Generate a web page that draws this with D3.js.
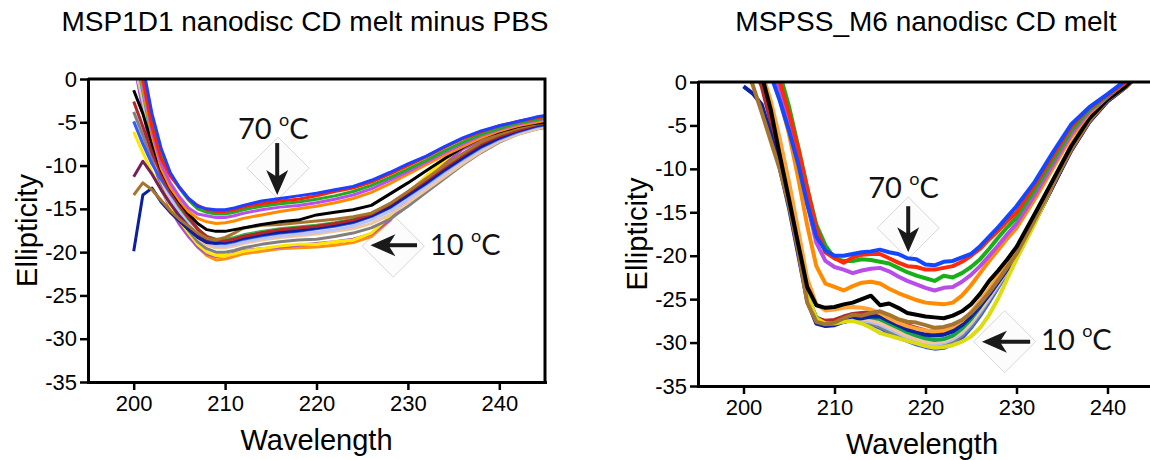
<!DOCTYPE html>
<html>
<head>
<meta charset="utf-8">
<script src="https://cdn.jsdelivr.net/npm/d3@7"></script>
<style>
  body { margin: 0; background: #fff; }
  text { font-family: "Liberation Sans", Arial, sans-serif; }
</style>
</head>
<body>
<div id="chart"></div>
<script>
// ---- data: left panel (MSP1D1) ----
const wlLeft = [200,201,202,203,204,205,206,207,208,209,210,211,212,214,216,218,220,222,224,226,228,230,232,234,236,238,240,242,244,245];

const leftOrange2    = [3, -3, -8.5, -12.2, -14.6, -16.5, -18.0, -19.4, -20.4, -20.9, -20.8, -20.5, -20.2, -19.9, -19.6, -19.5, -19.4, -19.2, -18.9, -18.2, -16.4, -13.6, -11.5, -9.7, -7.9, -6.9, -6.2, -5.9, -5.6, -5.5];
const leftViolet2    = [2, -3.5, -9, -12.6, -15.0, -16.8, -18.2, -19.4, -20.2, -20.5, -20.4, -20.1, -19.8, -19.6, -19.4, -19.2, -19.0, -18.8, -18.5, -17.9, -16.3, -13.8, -11.7, -9.9, -8.1, -7.1, -6.3, -6.0, -5.7, -5.6];
const leftYellow     = [-6.1, -8.5, -10.8, -12.8, -14.6, -16.3, -17.8, -19.1, -20.0, -20.4, -20.4, -20.2, -19.9, -19.6, -19.3, -19.1, -19.1, -18.8, -18.6, -17.8, -15.9, -13.2, -11.2, -9.4, -7.7, -6.8, -6.1, -5.8, -5.6, -5.5];
const leftGray       = [-3.8, -6.5, -9.5, -12.0, -14.2, -16.0, -17.5, -18.8, -19.6, -20.0, -20.0, -19.8, -19.5, -19.1, -18.8, -18.6, -18.5, -18.2, -17.8, -17.2, -16.2, -14.7, -13.1, -11.5, -9.9, -8.5, -7.3, -6.4, -5.8, -5.6];
const leftPeach      = [2, -2.5, -8, -11.7, -14.0, -15.8, -17.2, -18.4, -19.2, -19.5, -19.5, -19.3, -19.0, -18.6, -18.3, -18.1, -17.9, -17.6, -17.3, -16.7, -15.7, -14.3, -12.8, -11.3, -9.8, -8.4, -7.2, -6.4, -5.8, -5.5];
const leftLightBlue  = [3, -2, -7.5, -11.2, -13.6, -15.4, -16.8, -18.0, -18.9, -19.3, -19.3, -19.1, -18.8, -18.4, -18.1, -17.9, -17.7, -17.4, -17.0, -16.3, -15.3, -13.9, -12.4, -10.9, -9.4, -8.1, -7.0, -6.2, -5.6, -5.4];
const leftGreen2     = [4, -1.5, -7, -10.8, -13.0, -14.8, -16.2, -17.4, -18.2, -18.5, -18.5, -18.3, -18.0, -17.6, -17.3, -17.1, -16.9, -16.6, -16.2, -15.5, -14.5, -13.1, -11.7, -10.2, -8.8, -7.6, -6.6, -5.9, -5.3, -5.1];
const leftDarkPurple = [-11.3, -9.5, -11.0, -12.8, -14.4, -15.8, -17.0, -18.0, -18.7, -18.9, -18.8, -18.5, -18.2, -17.8, -17.5, -17.3, -17.1, -16.8, -16.4, -15.7, -14.6, -13.2, -11.8, -10.3, -8.9, -7.6, -6.6, -5.9, -5.3, -5.1];
const leftMidBlue    = [-4.9, -7.5, -9.8, -11.6, -13.2, -14.6, -16.0, -17.3, -18.3, -18.9, -19.0, -18.8, -18.5, -18.1, -17.8, -17.6, -17.3, -17.0, -16.6, -15.9, -14.9, -13.5, -12.1, -10.6, -9.2, -7.9, -6.9, -6.1, -5.5, -5.3];
const leftNavy       = [-19.9, -13.4, -12.6, -14.2, -15.4, -16.4, -17.4, -18.3, -18.9, -19.0, -18.9, -18.7, -18.4, -18.0, -17.7, -17.5, -17.2, -16.9, -16.5, -15.8, -14.8, -13.4, -12.0, -10.5, -9.1, -7.8, -6.8, -6.0, -5.4, -5.2];
const leftDarkRed    = [-2.6, -5.5, -8.5, -11.0, -13.0, -14.6, -16.0, -17.3, -18.2, -18.6, -18.7, -18.5, -18.2, -17.8, -17.4, -17.2, -17.0, -16.7, -16.3, -15.6, -14.5, -13.1, -11.7, -10.2, -8.8, -7.5, -6.6, -5.9, -5.3, -5.1];
const leftBrown      = [-13.4, -12.0, -12.8, -14.0, -15.2, -16.2, -17.0, -17.8, -18.4, -18.6, -18.3, -17.8, -17.2, -16.9, -16.8, -16.6, -16.4, -16.2, -15.9, -15.5, -14.4, -13.0, -11.5, -10.0, -8.6, -7.3, -6.4, -5.7, -5.2, -5.0];
const leftBlack      = [-1.3, -4, -7.5, -10.5, -12.6, -14.2, -15.6, -16.7, -17.4, -17.6, -17.6, -17.4, -17.2, -16.8, -16.5, -16.3, -15.7, -15.4, -15.1, -14.6, -13.3, -12.0, -10.6, -9.2, -7.9, -6.8, -6.1, -5.5, -5.1, -5.0];
const leftOrange     = [5, -1, -6.5, -10.3, -12.5, -14.0, -15.3, -16.1, -16.5, -16.7, -16.6, -16.4, -16.1, -15.7, -15.3, -15.0, -14.7, -14.3, -13.8, -13.1, -12.1, -11.0, -9.9, -8.8, -7.8, -6.8, -6.0, -5.4, -5.0, -4.8];
const leftViolet     = [5, -0.5, -6, -9.8, -12, -13.6, -14.9, -15.6, -15.8, -16.0, -16.0, -15.8, -15.5, -15.1, -14.8, -14.6, -14.3, -13.9, -13.4, -12.7, -11.7, -10.7, -9.6, -8.5, -7.5, -6.5, -5.8, -5.2, -4.8, -4.6];
const leftGreen      = [6, 0.5, -5, -8.8, -11, -12.6, -14.0, -15.0, -15.4, -15.6, -15.6, -15.4, -15.1, -14.7, -14.4, -14.2, -13.9, -13.5, -13.0, -12.3, -11.4, -10.4, -9.4, -8.3, -7.3, -6.4, -5.7, -5.1, -4.7, -4.5];
const leftRed        = [6, 0, -5.5, -9.2, -11.2, -12.5, -13.8, -14.6, -15.1, -15.3, -15.3, -15.1, -14.8, -14.4, -14.1, -13.9, -13.5, -13.0, -12.6, -11.9, -11.0, -10.0, -9.0, -7.9, -6.9, -6.1, -5.4, -4.9, -4.5, -4.3];
const leftBlue       = [6, 1.5, -4, -8, -10.8, -12.5, -13.8, -14.7, -15.0, -15.1, -15.1, -14.9, -14.6, -14.1, -13.8, -13.5, -13.2, -12.8, -12.4, -11.7, -10.8, -9.8, -8.9, -7.8, -6.8, -6.0, -5.4, -4.9, -4.4, -4.2];

const leftSeries = [leftOrange2, leftViolet2, leftYellow, leftGray, leftPeach, leftLightBlue, leftGreen2, leftDarkPurple,
                    leftMidBlue, leftNavy, leftDarkRed, leftBrown, leftBlack, leftOrange, leftViolet, leftGreen, leftRed, leftBlue];
const leftColors = ["#ff9010", "#a94fd6", "#ffe800", "#808080", "#f3c59a", "#b7c4ff", "#3cb043", "#74205f",
                    "#2f5bff", "#0c1f9c", "#b3262a", "#a8742c", "#000000", "#ff8a00", "#b84ef0", "#22aa22", "#ff2200", "#1f3fff"];

// ---- data: right panel (MSPSS_M6) ----
const wlRight = [200,201,202,203,204,205,206,207,208,209,210,211,212,213,214,215,216,217,218,219,220,221,222,223,224,225,226,227,228,229,230,232,234,236,238,240,242,244];

const rightBlue2     = [5, 3, 0.5, -3.9, -8.7, -13.7, -19.2, -24.9, -27.6, -28.0, -27.9, -27.6, -27.4, -27.5, -27.9, -28.3, -28.9, -29.4, -29.8, -30.2, -30.5, -30.7, -30.6, -30.2, -29.5, -28.3, -26.9, -25.3, -23.6, -21.9, -20.3, -16.2, -12.0, -7.8, -4.5, -2.2, -0.6, 1.5];
const rightGray      = [5, 3, 0.4, -4.0, -8.8, -13.8, -19.2, -24.8, -27.4, -27.8, -27.8, -27.6, -27.4, -27.5, -27.8, -28.2, -28.7, -29.2, -29.6, -30.0, -30.3, -30.4, -30.3, -29.9, -29.2, -28.1, -26.7, -25.1, -23.5, -21.8, -20.2, -16.1, -11.9, -7.7, -4.4, -2.1, -0.5, 1.5];
const rightLightBlue = [5, 3, 0.3, -4.0, -8.8, -13.8, -19.2, -24.7, -27.4, -27.9, -27.8, -27.5, -27.3, -27.4, -27.6, -27.9, -28.4, -28.9, -29.4, -29.8, -30.0, -30.2, -30.0, -29.6, -28.9, -27.8, -26.4, -24.9, -23.3, -21.7, -20.1, -16.0, -11.8, -7.7, -4.4, -2.1, -0.5, 1.5];
const rightPeach     = [5, 3, 0.2, -4.2, -9.0, -14.0, -19.4, -24.9, -27.3, -27.7, -27.6, -27.3, -27.1, -27.2, -27.4, -27.7, -28.2, -28.7, -29.2, -29.6, -29.9, -30.0, -29.8, -29.4, -28.7, -27.6, -26.2, -24.7, -23.1, -21.5, -19.9, -15.9, -11.7, -7.6, -4.4, -2.1, -0.5, 1.5];
const rightGreen2    = [5, 3, 0.5, -3.8, -8.6, -13.6, -19.0, -24.6, -27.1, -27.6, -27.5, -27.2, -27.0, -27.0, -27.1, -27.3, -27.8, -28.3, -28.8, -29.2, -29.5, -29.7, -29.6, -29.2, -28.4, -27.3, -25.9, -24.4, -22.8, -21.2, -19.6, -15.6, -11.5, -7.5, -4.3, -2.0, -0.5, 1.5];
const rightDarkRed   = [4, 2, -0.5, -4.6, -9.2, -14.0, -19.4, -24.8, -27.2, -27.5, -27.4, -27.0, -26.7, -26.6, -26.5, -26.7, -27.1, -27.6, -28.0, -28.3, -28.6, -28.8, -28.7, -28.4, -27.8, -26.9, -25.7, -24.4, -23.0, -21.5, -20.0, -16.0, -11.9, -7.9, -4.6, -2.2, -0.6, 1.5];
const rightNavy      = [-0.5, -1.3, -2.6, -6.0, -10.0, -14.5, -19.8, -25.2, -27.8, -28.1, -28.0, -27.6, -27.3, -27.2, -27.0, -27.0, -27.5, -28.0, -28.5, -28.8, -29.1, -29.2, -29.1, -28.7, -28.0, -27.0, -25.8, -24.5, -23.0, -21.5, -20.0, -16.1, -12.0, -7.9, -4.6, -2.2, -0.6, 1.5];
const rightYellow    = [6, 4, 1.5, -3.0, -8.0, -13.2, -18.8, -24.5, -27.2, -27.8, -27.8, -27.6, -27.5, -27.8, -28.3, -28.9, -29.2, -29.5, -29.8, -30.1, -30.4, -30.6, -30.5, -30.3, -29.9, -29.3, -28.3, -26.8, -24.9, -22.6, -20.4, -16.3, -11.8, -7.2, -3.8, -1.6, -0.2, 1.5];
const rightOrange2   = [5, 3.5, 1.2, -2.2, -6.6, -11.5, -17.0, -22.6, -25.6, -26.3, -26.2, -26.0, -25.9, -26.0, -26.2, -26.6, -27.2, -27.7, -28.1, -28.4, -28.6, -28.7, -28.6, -28.2, -27.5, -26.5, -25.2, -23.8, -22.3, -20.8, -19.3, -15.4, -11.3, -7.3, -4.2, -2.0, -0.5, 1.5];
const rightBrown     = [2, -0.3, -3.5, -6.8, -10.1, -14.2, -19.4, -25.4, -27.6, -27.9, -27.7, -27.2, -26.8, -26.9, -26.6, -26.4, -26.8, -27.3, -27.6, -27.7, -28.0, -28.3, -28.2, -27.9, -27.4, -26.6, -25.5, -24.2, -22.8, -21.3, -19.8, -15.9, -11.8, -7.8, -4.5, -2.1, -0.6, 1.5];
const rightBlack     = [4, 2.5, 0.8, -3.2, -8.5, -13.5, -18.6, -23.6, -25.7, -26.0, -25.9, -25.6, -25.4, -25.0, -24.6, -25.7, -25.5, -26.0, -26.6, -26.8, -27.0, -27.1, -27.2, -26.9, -26.4, -25.6, -24.4, -22.9, -21.7, -20.4, -19.0, -15.2, -11.3, -7.4, -4.2, -2.0, -0.5, 1.5];
const rightOrange    = [6, 5, 3, 0.8, -2.0, -6.0, -11.0, -16.5, -21.2, -23.2, -23.6, -24.0, -23.5, -23.1, -23.0, -23.2, -23.8, -24.3, -24.7, -25.1, -25.4, -25.5, -25.6, -25.4, -24.6, -23.4, -22.0, -20.6, -19.3, -18.0, -16.8, -13.5, -9.9, -6.3, -3.6, -1.7, 0, 2];
const rightViolet    = [7, 6, 4, 1.8, -0.8, -4.4, -9.0, -14.0, -18.5, -20.6, -21.3, -21.6, -22.0, -21.7, -21.5, -21.4, -21.8, -22.4, -22.9, -23.3, -23.7, -24.0, -23.7, -23.6, -23.0, -22.2, -21.2, -20.0, -18.8, -17.5, -16.3, -13.0, -9.5, -6.0, -3.4, -1.7, 0, 2];
const rightGreen     = [8, 7, 5, 3, 0.9, -2.8, -7.4, -12.2, -16.4, -18.8, -20.3, -20.6, -20.6, -20.4, -20.5, -20.7, -20.9, -21.4, -21.9, -22.3, -22.6, -22.9, -22.3, -22.5, -22.0, -21.3, -20.4, -19.2, -17.9, -16.7, -15.6, -12.4, -9.0, -5.6, -3.2, -1.6, 0, 2];
const rightRed       = [8, 6.5, 4.5, 2, 0, -3.6, -7.6, -12.2, -16.8, -19.6, -20.3, -20.8, -20.2, -19.9, -19.8, -19.8, -20.3, -20.8, -21.2, -21.3, -21.6, -21.6, -21.4, -21.2, -20.7, -20.0, -19.2, -18.1, -17.1, -16.0, -15.0, -11.9, -8.5, -5.2, -3.0, -1.5, 0, 2];
const rightBlue      = [8, 6, 3.5, 0.8, -2.2, -5.6, -9.4, -14.0, -17.8, -19.4, -20.0, -20.0, -19.8, -19.6, -19.5, -19.3, -19.6, -19.8, -20.3, -20.4, -21.0, -21.1, -20.7, -20.6, -20.2, -19.8, -18.9, -17.8, -16.7, -15.5, -14.3, -11.5, -8.1, -4.9, -2.9, -1.4, 0.2, 2];

const rightSeries = [rightBlue2, rightGray, rightLightBlue, rightPeach, rightGreen2, rightDarkRed, rightNavy, rightYellow,
                     rightOrange2, rightBrown, rightBlack, rightOrange, rightViolet, rightGreen, rightRed, rightBlue];
const rightColors = ["#2450ff", "#808080", "#aac0ff", "#f4c49c", "#17a34a", "#b22a2a", "#0b22a3", "#dcdc10",
                     "#ffa23a", "#a5742f", "#000000", "#ff8c00", "#b84de8", "#18b018", "#ff2a0a", "#1448ff"];

// ---- ticks ----
const yTicks = [0, -5, -10, -15, -20, -25, -30, -35];
const xTicks = [200, 210, 220, 230, 240];

// ---- annotations (data units) ----
const noteLabels = ["70", "10"];
const leftNoteTail  = [[215.7, -7.4], [231.0, -19.2]];
const leftNoteTip   = [[215.7, -13.4], [225.9, -19.2]];
const leftNoteBox   = [[215.8, -10.3], [228.4, -19.3]];
const leftNoteText  = [[211.4, -6.9], [232.4, -20.3]];
const rightNoteTail = [[218.1, -14.3], [231.5, -29.9]];
const rightNoteTip  = [[218.1, -19.6], [226.2, -29.9]];
const rightNoteBox  = [[218.1, -16.8], [228.7, -29.9]];
const rightNoteText = [[213.7, -13.35], [232.7, -30.85]];

var svg = d3.select("#chart")
  .append("svg")
    .attr("width", 1150)
    .attr("height", 460);

svg.append("rect").attr("width", 1150).attr("height", 460).attr("fill", "#fff");

function drawArrow(g, x0, y0, x1, y1) {
  var ang = Math.atan2(y1 - y0, x1 - x0) * 180 / Math.PI;
  var len = Math.hypot(x1 - x0, y1 - y0);
  var a = g.append("g")
    .attr("transform", "translate(" + x0 + "," + y0 + ") rotate(" + ang + ")");
  a.append("line")
    .attr("x1", 0).attr("y1", 0).attr("x2", len - 16).attr("y2", 0)
    .attr("stroke", "#1a1a1a").attr("stroke-width", 4);
  a.append("path")
    .attr("d", "M" + len + ",0L" + (len - 25) + ",-11L" + (len - 18) + ",0L" + (len - 25) + ",11Z")
    .attr("fill", "#1a1a1a");
}

function panel(opt) {
  var x = d3.scaleLinear().domain([195, 245]).range(opt.xRange);
  var y = d3.scaleLinear().domain([-35, 0]).range(opt.yRange);
  var g = svg.append("g");

  g.append("clipPath").attr("id", opt.id + "clip")
    .append("rect")
      .attr("x", x(195)).attr("y", y(0))
      .attr("width", x(245) - x(195)).attr("height", y(-35) - y(0));

  // note boxes (faint diamonds)
  opt.box.forEach(function(b) {
    var cx = x(b[0]), cy = y(b[1]), r = 31;
    g.append("path")
      .attr("d", "M" + cx + "," + (cy - r) + "L" + (cx + r) + "," + cy + "L" + cx + "," + (cy + r) + "L" + (cx - r) + "," + cy + "Z")
      .attr("fill", "#fcfcfc")
      .attr("stroke", "#d8d8d8")
      .attr("stroke-width", 1);
  });

  // curves
  var line = d3.line()
    .x(function(d, i) { return x(opt.wl[i]); })
    .y(function(d) { return y(d); });

  g.append("g")
    .attr("clip-path", "url(#" + opt.id + "clip)")
    .selectAll("path")
    .data(opt.series)
    .enter().append("path")
      .attr("d", line)
      .attr("fill", "none")
      .attr("stroke", function(d, i) { return opt.colors[i]; })
      .attr("stroke-width", opt.lw)
      .attr("stroke-linejoin", "round");

  // frame lines
  g.append("path")
    .attr("d", "M" + x(195) + "," + y(0) + "H" + x(245) + (opt.rightFrame ? "V" + y(-35) : ""))
    .attr("fill", "none").attr("stroke", "#000").attr("stroke-width", 3);

  // axes
  var ya = g.append("g")
    .attr("transform", "translate(" + x(195) + ",0)")
    .call(d3.axisLeft(y).tickValues(yTicks).tickFormat(function(d) { return d; })
      .tickSize(8).tickSizeOuter(0).tickPadding(3));
  var xa = g.append("g")
    .attr("transform", "translate(0," + y(-35) + ")")
    .call(d3.axisBottom(x).tickValues(xTicks).tickFormat(function(d) { return d; })
      .tickSize(8).tickSizeOuter(0).tickPadding(5));
  [ya, xa].forEach(function(a) {
    a.attr("font-family", "Liberation Sans, Arial, sans-serif").attr("font-size", 22);
    a.select(".domain").attr("stroke-width", 3).attr("stroke-linecap", "square");
    a.selectAll(".tick line").attr("stroke-width", 2.5);
    a.selectAll(".tick text").attr("fill", "#000");
  });

  // arrows and labels
  opt.tail.forEach(function(t, i) {
    drawArrow(g, x(t[0]), y(t[1]), x(opt.tip[i][0]), y(opt.tip[i][1]));
    var tx = g.append("text")
      .attr("x", x(opt.text[i][0]))
      .attr("y", y(opt.text[i][1]))
      .style("font-family", "Lato, 'Open Sans', sans-serif")
      .style("font-size", "29px")
      .attr("fill", "#111");
    tx.append("tspan").text(noteLabels[i] + " ");
    tx.append("tspan").attr("dy", -13).style("font-size", "18px").text("o");
    tx.append("tspan").attr("dy", 13).text("C");
  });

  // titles and axis labels
  svg.append("text")
    .attr("x", opt.titleX).attr("y", 31)
    .attr("text-anchor", "middle")
    .style("font-size", "28px")
    .text(opt.title);
  svg.append("text")
    .attr("x", (x(195) + Math.min(x(245), 1150)) / 2 + opt.xLabelShift)
    .attr("y", opt.xLabelY)
    .attr("text-anchor", "middle")
    .style("font-size", "29px")
    .text("Wavelength");
  svg.append("text")
    .attr("transform", "translate(" + opt.yLabelX + "," + (y(0) + y(-35)) / 2 + ") rotate(-90)")
    .attr("text-anchor", "middle")
    .style("font-size", "29px")
    .text("Ellipticity");
}

panel({
  id: "left", xRange: [88, 545], yRange: [382, 79],
  wl: wlLeft, series: leftSeries, colors: leftColors, lw: 3, rightFrame: true,
  tail: leftNoteTail, tip: leftNoteTip, box: leftNoteBox, text: leftNoteText,
  title: "MSP1D1 nanodisc CD melt minus PBS", titleX: 305,
  xLabelY: 450, xLabelShift: 0, yLabelX: 37
});

panel({
  id: "right", xRange: [698, 1153], yRange: [386, 82],
  wl: wlRight, series: rightSeries, colors: rightColors, lw: 4, rightFrame: false,
  tail: rightNoteTail, tip: rightNoteTip, box: rightNoteBox, text: rightNoteText,
  title: "MSPSS_M6 nanodisc CD melt", titleX: 926,
  xLabelY: 454, xLabelShift: -2, yLabelX: 647
});
</script>
</body>
</html>
